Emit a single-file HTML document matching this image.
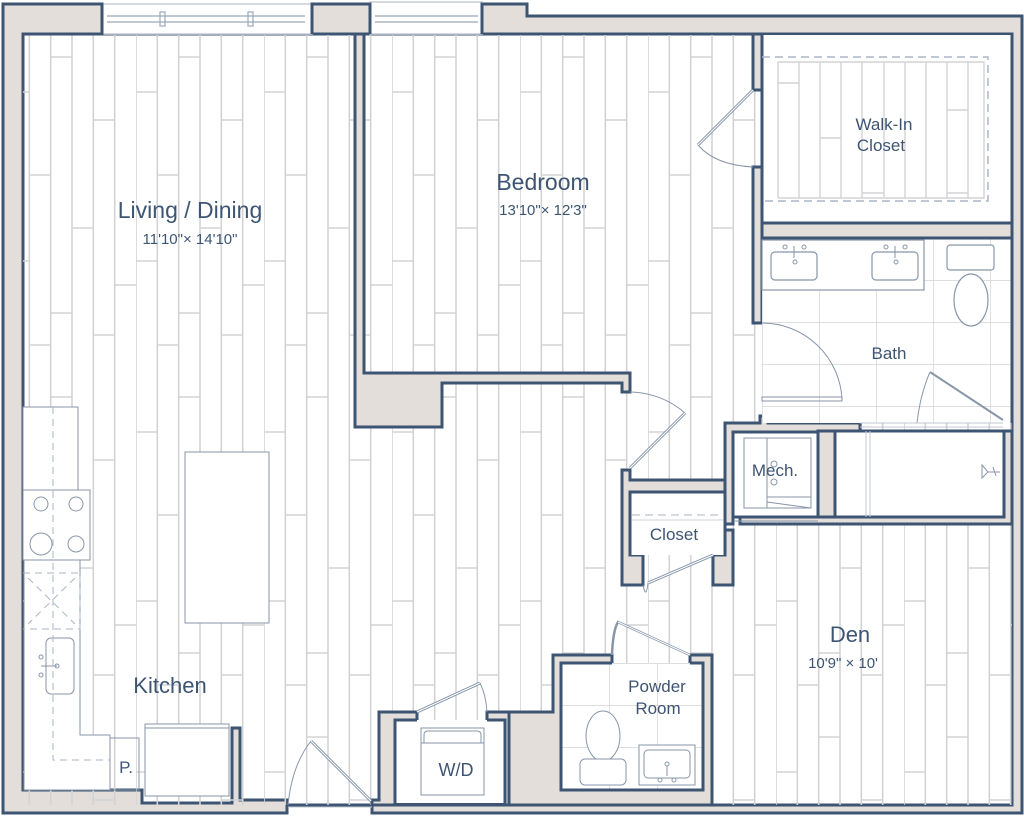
<!DOCTYPE html>
<html><head><meta charset="utf-8"><style>
html,body{margin:0;padding:0;background:#fff;}
svg{display:block;}
text{font-family:"Liberation Sans",sans-serif;fill:#3d5573;text-anchor:middle;}
</style></head><body>
<svg width="1024" height="817" viewBox="0 0 1024 817" xmlns="http://www.w3.org/2000/svg">
<defs>
<pattern id="wood" x="8" y="35" width="128" height="340" patternUnits="userSpaceOnUse">
<g stroke="#d3d3d6" stroke-width="1.6" fill="none">
<path d="M0 0V340M21.3 0V340M42.7 0V340M64 0V340M85.3 0V340M106.7 0V340"/>
<path d="M0 57H21.3M21.3 140H42.7M42.7 22H64M64 193H85.3M85.3 85H106.7M106.7 250H128M0 226H21.3M21.3 310H42.7M42.7 278H64M85.3 300H106.7"/>
</g></pattern>
<pattern id="tile" x="762" y="238" width="57" height="42" patternUnits="userSpaceOnUse">
<path d="M0 0H57M0 0V42" stroke="#d3d3d6" stroke-width="1.4" fill="none"/></pattern>
<pattern id="tile2" x="561" y="663" width="48" height="42" patternUnits="userSpaceOnUse">
<path d="M0 0H48M0 0V42" stroke="#d3d3d6" stroke-width="1.4" fill="none"/></pattern>
</defs>
<g stroke="#3d5573" stroke-width="3" stroke-linejoin="miter">
<path fill="#e3ded9" fill-rule="evenodd" d="M3 4H102V34H312V4H370V34H482V4H527V16H1022V813H372V805H287V813H3Z M23 34V790H142V803H232V728H240V800H287V805H1012V34Z"/>
</g>
<rect x="23" y="35" width="989" height="770" fill="url(#wood)"/>
<g fill="#fff" stroke="#c9ced6" stroke-width="1.5">
<rect x="102" y="4" width="210" height="30"/>
<rect x="370" y="2" width="112" height="32"/>
</g>
<g stroke="#9aa8ba" stroke-width="1.2" fill="none">
<path d="M107 16H305M107 22H305M375 16H478M375 22H478"/>
<rect x="160" y="12" width="5" height="14"/><rect x="248" y="12" width="5" height="14"/>
</g>
<g stroke="#3d5573" stroke-width="3" fill="#e3ded9">
<path d="M3 4H102V34H23" fill="none"/>
<path d="M312 34V4H370V34" fill="none"/>
<path d="M482 34V4H527V16H1022" fill="none"/>
<path d="M355 34H364V373H630V392H622V383H442V427H355Z"/>
<path d="M753 34H762V90H753Z"/>
<path d="M753 167H762V323H753Z"/>
<path d="M762 223H1012V238H762Z"/>
<path d="M725 423H760V416H768V423H860V431H835V517H1004V431H1012V524H740V517H733V524H725Z"/>
<path d="M818 431H835V517H818Z"/>
<path d="M622 470H630V480H725V530H733V585H713V555H725V492H630V555H643V585H622Z"/>
<path d="M553 655H612V663H561V790H703V663H690V655H712V805H509V712H553Z"/>
<path d="M379 712H417V720H395V803H505V720H487V712H509V805H372V800H379Z"/>
</g>
<rect x="762" y="238" width="250" height="185" fill="#fff"/>
<rect x="762" y="238" width="250" height="185" fill="url(#tile)"/>
<rect x="835" y="431" width="169" height="86" fill="#fff" stroke="#3d5573" stroke-width="3"/>
<rect x="733" y="432" width="85" height="85" fill="#fff" stroke="#3d5573" stroke-width="3"/>
<rect x="561" y="663" width="142" height="127" fill="#fff"/>
<rect x="561" y="663" width="142" height="127" fill="url(#tile2)"/>
<rect x="395" y="720" width="110" height="83" fill="#fff"/>
<rect x="630" y="492" width="95" height="63" fill="#fff"/>
<rect x="762" y="35" width="250" height="188" fill="#fff"/>
<g stroke="#3d5573" stroke-width="3" fill="none">
<path d="M762 238H1012V423"/>
<path d="M561 790V663H612M690 663H703V790H561"/>
<path d="M395 803V720H417M487 720H505V803"/>
<path d="M630 555V492H725V555"/>
<path d="M762 35V223H1012V35"/>
</g>
<g stroke="#d3d3d6" stroke-width="1.4" fill="none">
<path d="M778 62H984V198H778"/>
<path d="M778 62V198M799 62V198M820 62V198M841 62V198M862 62V198M884 62V198M905 62V198M926 62V198M947 62V198M968 62V198"/>
<path d="M778 83H799M820 138H841M947 110H968M862 193H884M947 193H968"/>
</g>
<path d="M762 57H988V201H762" stroke="#aab6c6" stroke-width="1.5" stroke-dasharray="8 5" fill="none"/>
<g stroke="#8896aa" stroke-width="1.2" fill="#fff">
<rect x="762" y="240" width="162" height="50"/>
<rect x="771" y="252" width="46" height="28" rx="4"/>
<rect x="872" y="252" width="46" height="28" rx="4"/>
<rect x="947" y="245" width="47" height="25" rx="3"/>
<ellipse cx="971" cy="300" rx="17" ry="26"/>
</g>
<g stroke="#8896aa" stroke-width="1" fill="none">
<circle cx="785" cy="247" r="2"/><circle cx="804" cy="247" r="2"/><circle cx="795" cy="262" r="2"/><path d="M794 246V258"/>
<circle cx="886" cy="247" r="2"/><circle cx="905" cy="247" r="2"/><circle cx="896" cy="262" r="2"/><path d="M895 246V258"/>
<path d="M762 323A80 80 0 0 1 842 400"/>
<rect x="762" y="397" width="80" height="4"/>
<path d="M917 423Q920 395 930 372"/>
<path d="M930 372L1003 420" stroke-width="2"/>
<path d="M860 423H1003M860 427H1003" stroke="#c0c7d2"/>
<path d="M866 431V517M870 431V517" stroke="#c0c7d2"/>
<path d="M982 465L988 472L982 478ZM988 472H1000M993 467L996 476"/>
<rect x="744" y="438" width="67" height="70"/>
<path d="M767 438V508M767 497H811M767 502L811 508"/>
<circle cx="774" cy="464" r="3"/><circle cx="774" cy="482" r="3"/>
<path d="M735 521H818"/>
<path d="M698 145Q715 165 753 167"/>
<path d="M753 90L698 145" stroke-width="3"/>
<path d="M753 90L698 145" stroke="#fff" stroke-width="1"/>
<path d="M630 392A85 85 0 0 1 685 413"/>
<path d="M685 413L630 468" stroke-width="3"/>
<path d="M685 413L630 468" stroke="#fff" stroke-width="1"/>
<path d="M643 585Q646 600 648 583"/>
<path d="M713 555L648 583" stroke-width="3"/>
<path d="M713 555L648 583" stroke="#fff" stroke-width="1"/>
<path d="M632 515H723" stroke-dasharray="8 5" stroke="#aab6c6"/>
<path d="M632 520H723" stroke="#d3d3d6"/>
<path d="M612 655Q613 630 618 622L690 655" stroke-width="2.5"/>
<path d="M618 622L690 655" stroke="#fff" stroke-width="1"/>
<g fill="#fff">
<ellipse cx="603" cy="736" rx="17" ry="25"/>
<rect x="580" y="759" width="46" height="26" rx="5"/>
<rect x="639" y="745" width="56" height="40"/>
<rect x="644" y="750" width="46" height="28" rx="4"/>
</g>
<circle cx="667" cy="764" r="2"/><path d="M667 766V776"/><circle cx="660" cy="780" r="2"/><circle cx="674" cy="780" r="2"/>
<rect x="421" y="728" width="63" height="67" fill="#fff"/>
<path d="M421 743H484M424 743V735Q424 731 428 731H477Q481 731 481 735V743"/>
<path d="M417 712L480 683" stroke-width="3"/>
<path d="M417 712L480 683" stroke="#fff" stroke-width="1"/>
<path d="M480 683Q486 695 487 712"/>
<path d="M288 805Q292 765 311 741"/>
<path d="M311 741L371 801" stroke-width="3"/>
<path d="M311 741L371 801" stroke="#fff" stroke-width="1"/>
<path d="M288 807H372" stroke="#c0c7d2"/>
<path d="M23 407H78V490H23Z" fill="#fff"/>
<rect x="23" y="490" width="67" height="70" fill="#fff"/>
<circle cx="41" cy="504" r="7"/><circle cx="76" cy="504" r="7"/>
<circle cx="41" cy="544" r="11"/><circle cx="76" cy="544" r="8"/>
<path d="M23 560H80V735H110V790H24V560Z" fill="#fff"/>
<path d="M110 738H139V790H110"/>
<rect x="46" y="638" width="28" height="56" rx="5" fill="#fff"/>
<circle cx="41" cy="657" r="2"/><circle cx="41" cy="675" r="2"/><circle cx="57" cy="666" r="2"/><path d="M41 666H57"/>
<path d="M53 407V760H110M23 573H80V629H23M28 578L75 624M75 578L28 624" stroke-dasharray="7 5" stroke="#aab6c6"/>
<rect x="185" y="452" width="84" height="171" fill="#fff"/>
<rect x="145" y="724" width="84" height="72" fill="#fff"/>
<path d="M145 728H229"/>
</g>
<text x="190" y="218" font-size="23">Living / Dining</text>
<text x="190" y="244" font-size="15">11'10"× 14'10"</text>
<text x="543" y="190" font-size="23">Bedroom</text>
<text x="543" y="215" font-size="15">13'10"× 12'3"</text>
<text x="884" y="130" font-size="17">Walk-In</text>
<text x="881" y="151" font-size="17">Closet</text>
<text x="889" y="359" font-size="17">Bath</text>
<text x="775" y="476" font-size="17">Mech.</text>
<text x="674" y="540" font-size="17">Closet</text>
<text x="850" y="642" font-size="22">Den</text>
<text x="843" y="668" font-size="15">10'9" × 10'</text>
<text x="657" y="692" font-size="17">Powder</text>
<text x="658" y="714" font-size="17">Room</text>
<text x="456" y="776" font-size="18">W/D</text>
<text x="170" y="693" font-size="22">Kitchen</text>
<text x="126" y="773" font-size="17">P.</text>
</svg>
</body></html>
